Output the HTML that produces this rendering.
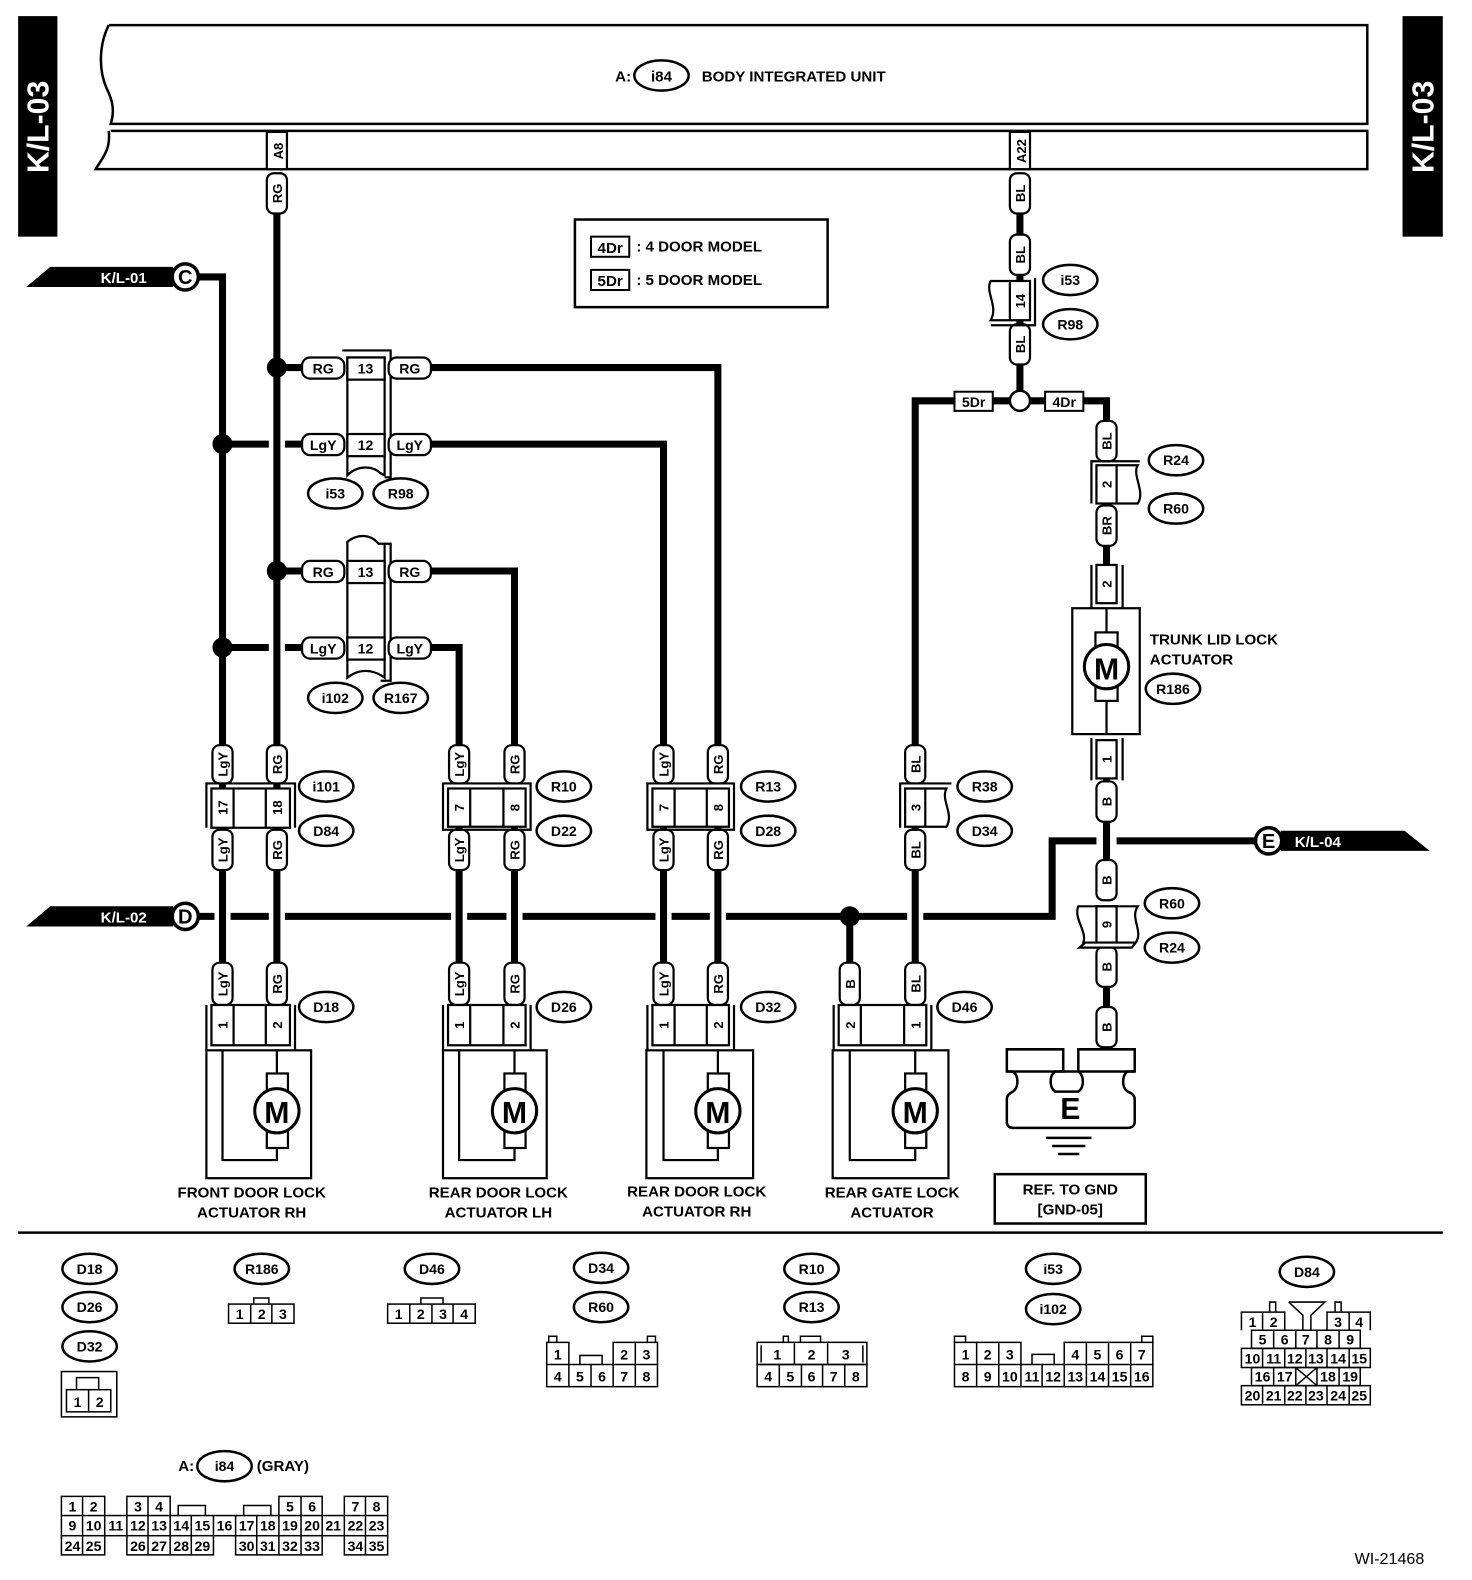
<!DOCTYPE html>
<html><head><meta charset="utf-8"><style>
html,body{margin:0;padding:0;background:#fff;}
svg{display:block;}
text{font-family:"Liberation Sans",sans-serif;font-weight:bold;}
</style></head><body>
<svg width="1472" height="1580" viewBox="0 0 1462 1569" preserveAspectRatio="none" xmlns="http://www.w3.org/2000/svg">
<rect x="0" y="0" width="1462" height="1569" fill="#fff"/>

<rect x="18" y="16" width="39" height="219" fill="#000"/>
<text transform="translate(48,126) rotate(-90)" text-anchor="middle" font-size="30" fill="#fff">K/L-03</text>
<rect x="1393" y="16" width="40" height="219" fill="#000"/>
<text transform="translate(1424,126) rotate(-90)" text-anchor="middle" font-size="30" fill="#fff">K/L-03</text>

<g fill="none" stroke="#000" stroke-width="2.5">
<path d="M108,25 H1358 V123 H110 C114,110 112,100 106,88 C98,70 98,45 108,25"/>
<path d="M110,130 H1358 V168 H95 C103,155 110,148 108,130"/>
</g>
<text x="611" y="81" font-size="15">A:</text>
<ellipse cx="657" cy="75" rx="27" ry="15" fill="#fff" stroke="#000" stroke-width="2.5"/>
<text x="657" y="81" font-size="15" text-anchor="middle">i84</text>
<text x="697" y="81" font-size="15">BODY INTEGRATED UNIT</text>

<rect x="571" y="218" width="251" height="87" fill="none" stroke="#000" stroke-width="2.5"/>
<rect x="587" y="235" width="38" height="20" fill="none" stroke="#000" stroke-width="2"/>
<text x="606" y="251" font-size="15" text-anchor="middle" font-weight="normal">4Dr</text>
<text x="632" y="250" font-size="15">: 4 DOOR MODEL</text>
<rect x="587" y="268" width="38" height="20" fill="none" stroke="#000" stroke-width="2"/>
<text x="606" y="284" font-size="15" text-anchor="middle" font-weight="normal">5Dr</text>
<text x="632" y="283" font-size="15">: 5 DOOR MODEL</text>

<g stroke="#000" stroke-width="7" fill="none">
<line x1="275" y1="210" x2="275" y2="960"/>
<polyline points="196,275 221,275 221,960"/>
<line x1="221" y1="441" x2="267" y2="441"/>
<line x1="283" y1="441" x2="302" y2="441"/>
<line x1="221" y1="643" x2="267" y2="643"/>
<line x1="283" y1="643" x2="302" y2="643"/>
<line x1="275" y1="365" x2="302" y2="365"/>
<line x1="275" y1="567" x2="302" y2="567"/>
<polyline points="428,365 713,365 713,744"/>
<polyline points="428,441 659,441 659,744"/>
<polyline points="428,567 511,567 511,744"/>
<polyline points="428,643 456,643 456,744"/>
<line x1="456" y1="820" x2="456" y2="960"/>
<line x1="511" y1="820" x2="511" y2="960"/>
<line x1="659" y1="820" x2="659" y2="960"/>
<line x1="713" y1="820" x2="713" y2="960"/>
<line x1="844" y1="910" x2="844" y2="960"/>
<line x1="1013" y1="210" x2="1013" y2="390"/>
<polyline points="950,398 909,398 909,744"/>
<line x1="984" y1="398" x2="1005" y2="398"/>
<line x1="1021" y1="398" x2="1040" y2="398"/>
<line x1="909" y1="820" x2="909" y2="960"/>
<polyline points="1075,398 1099,398 1099,420"/>
<line x1="1099" y1="540" x2="1099" y2="565"/>
<line x1="1099" y1="770" x2="1099" y2="860"/>
<line x1="1099" y1="978" x2="1099" y2="1004"/>
<line x1="196" y1="910" x2="213" y2="910"/>
<line x1="229" y1="910" x2="267" y2="910"/>
<line x1="283" y1="910" x2="448" y2="910"/>
<line x1="464" y1="910" x2="503" y2="910"/>
<line x1="519" y1="910" x2="651" y2="910"/>
<line x1="667" y1="910" x2="705" y2="910"/>
<line x1="721" y1="910" x2="901" y2="910"/>
<polyline points="917,910 1045,910 1045,835 1089,835"/>
<line x1="1109" y1="835" x2="1246" y2="835"/>
</g>
<g fill="#000">
<circle cx="275" cy="365" r="10"/><circle cx="221" cy="441" r="10"/>
<circle cx="275" cy="567" r="10"/><circle cx="221" cy="643" r="10"/>
<circle cx="844" cy="910" r="10"/>
</g>
<circle cx="1013" cy="398" r="10" fill="#fff" stroke="#000" stroke-width="2.5"/>
<rect x="948" y="389" width="38" height="19" fill="#fff" stroke="#000" stroke-width="2"/>
<text x="967" y="404" font-size="14" text-anchor="middle" font-weight="normal">5Dr</text>
<rect x="1038" y="389" width="38" height="19" fill="#fff" stroke="#000" stroke-width="2"/>
<text x="1057" y="404" font-size="14" text-anchor="middle" font-weight="normal">4Dr</text>

<polygon points="26,285 50,265 172,265 172,285" fill="#000"/>
<text x="100" y="281" font-size="15" fill="#fff" font-weight="normal">K/L-01</text>
<circle cx="184" cy="275" r="13" fill="#fff" stroke="#000" stroke-width="3.5"/>
<text x="184" y="282" font-size="20" text-anchor="middle">C</text>
<polygon points="26,920 50,900 172,900 172,920" fill="#000"/>
<text x="100" y="916" font-size="15" fill="#fff" font-weight="normal">K/L-02</text>
<circle cx="184" cy="910" r="13" fill="#fff" stroke="#000" stroke-width="3.5"/>
<text x="184" y="917" font-size="20" text-anchor="middle">D</text>
<polygon points="1272,825 1395,825 1420,845 1272,845" fill="#000"/>
<text x="1286" y="841" font-size="15" fill="#fff" font-weight="normal">K/L-04</text>
<circle cx="1260" cy="835" r="13" fill="#fff" stroke="#000" stroke-width="3.5"/>
<text x="1260" y="842" font-size="20" text-anchor="middle">E</text>

<g fill="#fff" stroke="#000" stroke-width="2.2">
<rect x="265" y="131" width="20" height="37"/>
<rect x="1003" y="131" width="20" height="37"/>
</g>
<text transform="translate(281,150) rotate(-90)" font-size="13" text-anchor="middle">A8</text>
<text transform="translate(1019,150) rotate(-90)" font-size="13" text-anchor="middle">A22</text>

<g fill="#fff" stroke="#000" stroke-width="2.2">
<rect x="265" y="172" width="20" height="40" rx="7"/>
<rect x="1003" y="172" width="20" height="40" rx="7"/>
<rect x="1003" y="233" width="20" height="40" rx="7"/>
<rect x="1003" y="322" width="20" height="40" rx="7"/>
<rect x="211" y="740" width="20" height="38" rx="7"/><rect x="265" y="740" width="20" height="38" rx="7"/>
<rect x="446" y="740" width="20" height="38" rx="7"/><rect x="501" y="740" width="20" height="38" rx="7"/>
<rect x="649" y="740" width="20" height="38" rx="7"/><rect x="703" y="740" width="20" height="38" rx="7"/>
<rect x="899" y="740" width="20" height="38" rx="7"/>
<rect x="211" y="824" width="20" height="40" rx="7"/><rect x="265" y="824" width="20" height="40" rx="7"/>
<rect x="446" y="824" width="20" height="40" rx="7"/><rect x="501" y="824" width="20" height="40" rx="7"/>
<rect x="649" y="824" width="20" height="40" rx="7"/><rect x="703" y="824" width="20" height="40" rx="7"/>
<rect x="899" y="824" width="20" height="40" rx="7"/>
<rect x="211" y="956" width="20" height="42" rx="7"/><rect x="265" y="956" width="20" height="42" rx="7"/>
<rect x="446" y="956" width="20" height="42" rx="7"/><rect x="501" y="956" width="20" height="42" rx="7"/>
<rect x="649" y="956" width="20" height="42" rx="7"/><rect x="703" y="956" width="20" height="42" rx="7"/>
<rect x="834" y="956" width="20" height="42" rx="7"/><rect x="899" y="956" width="20" height="42" rx="7"/>
<rect x="1089" y="418" width="20" height="40" rx="7"/>
<rect x="1089" y="502" width="20" height="40" rx="7"/>
<rect x="1089" y="776" width="20" height="40" rx="7"/>
<rect x="1089" y="854" width="20" height="40" rx="7"/>
<rect x="1089" y="940" width="20" height="40" rx="7"/>
<rect x="1089" y="1000" width="20" height="40" rx="7"/>
</g>
<g font-size="13" text-anchor="middle">
<text transform="translate(280,192) rotate(-90)">RG</text>
<text transform="translate(1018,192) rotate(-90)">BL</text>
<text transform="translate(1018,253) rotate(-90)">BL</text>
<text transform="translate(1018,342) rotate(-90)">BL</text>
<text transform="translate(226,759) rotate(-90)">LgY</text><text transform="translate(280,759) rotate(-90)">RG</text>
<text transform="translate(461,759) rotate(-90)">LgY</text><text transform="translate(516,759) rotate(-90)">RG</text>
<text transform="translate(664,759) rotate(-90)">LgY</text><text transform="translate(718,759) rotate(-90)">RG</text>
<text transform="translate(914,759) rotate(-90)">BL</text>
<text transform="translate(226,844) rotate(-90)">LgY</text><text transform="translate(280,844) rotate(-90)">RG</text>
<text transform="translate(461,844) rotate(-90)">LgY</text><text transform="translate(516,844) rotate(-90)">RG</text>
<text transform="translate(664,844) rotate(-90)">LgY</text><text transform="translate(718,844) rotate(-90)">RG</text>
<text transform="translate(914,844) rotate(-90)">BL</text>
<text transform="translate(226,977) rotate(-90)">LgY</text><text transform="translate(280,977) rotate(-90)">RG</text>
<text transform="translate(461,977) rotate(-90)">LgY</text><text transform="translate(516,977) rotate(-90)">RG</text>
<text transform="translate(664,977) rotate(-90)">LgY</text><text transform="translate(718,977) rotate(-90)">RG</text>
<text transform="translate(849,977) rotate(-90)">B</text><text transform="translate(914,977) rotate(-90)">BL</text>
<text transform="translate(1104,438) rotate(-90)">BL</text>
<text transform="translate(1104,522) rotate(-90)">BR</text>
<text transform="translate(1104,796) rotate(-90)">B</text>
<text transform="translate(1104,874) rotate(-90)">B</text>
<text transform="translate(1104,960) rotate(-90)">B</text>
<text transform="translate(1104,1020) rotate(-90)">B</text>
</g>

<g fill="#fff" stroke="#000" stroke-width="2.2">
<path d="M345,355 V472 C355,462 370,462 378,470 L382,472 V355 Z"/>
<path d="M340,348 H388 V474 L382,474" fill="none"/>
<path d="M345,538 C355,530 368,530 376,540 L382,540 V673 C370,664 356,664 345,673 Z"/>
<path d="M382,540 H388 V676 H378" fill="none"/>
<rect x="345" y="355" width="37" height="22"/><rect x="345" y="431" width="37" height="22"/>
<rect x="345" y="557" width="37" height="22"/><rect x="345" y="633" width="37" height="22"/>
<rect x="300" y="355" width="42" height="21" rx="8"/><rect x="386" y="355" width="42" height="21" rx="8"/>
<rect x="300" y="431" width="42" height="21" rx="8"/><rect x="386" y="431" width="42" height="21" rx="8"/>
<rect x="300" y="557" width="42" height="21" rx="8"/><rect x="386" y="557" width="42" height="21" rx="8"/>
<rect x="300" y="633" width="42" height="21" rx="8"/><rect x="386" y="633" width="42" height="21" rx="8"/>
</g>
<g font-size="14" text-anchor="middle">
<text x="321" y="371">RG</text><text x="363" y="371">13</text><text x="407" y="371">RG</text>
<text x="321" y="447">LgY</text><text x="363" y="447">12</text><text x="407" y="447">LgY</text>
<text x="321" y="573">RG</text><text x="363" y="573">13</text><text x="407" y="573">RG</text>
<text x="321" y="649">LgY</text><text x="363" y="649">12</text><text x="407" y="649">LgY</text>
</g>

<g fill="#fff" stroke="#000" stroke-width="2.2">
<path d="M1003,279 H984 C978,290 992,304 984,318 H1003"/>
<rect x="1003" y="279" width="20" height="39"/>
<path d="M1028,276 V323 H984" fill="none"/>
</g>
<text transform="translate(1018,299) rotate(-90)" font-size="13" text-anchor="middle">14</text>

<g fill="#fff" stroke="#000" stroke-width="2.2">
<path d="M1109,462 H1130 C1124,472 1138,488 1130,500 H1109"/>
<rect x="1089" y="462" width="20" height="38"/>
<path d="M1084,500 V458 H1132" fill="none"/>
</g>
<text transform="translate(1104,481) rotate(-90)" font-size="13" text-anchor="middle">2</text>

<g fill="#fff" stroke="#000" stroke-width="2.2">
<path d="M1071,900 H1130 C1122,912 1136,925 1128,936 H1076 C1080,925 1066,912 1071,900 Z"/>
<rect x="1089" y="900" width="20" height="36"/>
<path d="M1072,941 L1078,936 H1128 L1124,941 Z"/>
</g>
<text transform="translate(1104,918) rotate(-90)" font-size="13" text-anchor="middle">9</text>

<g fill="#fff" stroke="#000" stroke-width="2.2">
<path d="M1084,561 V605 M1115,561 V605 M1084,733 V775 M1115,733 V775" fill="none"/>
<rect x="1089" y="561" width="20" height="38"/>
<rect x="1065" y="604" width="67" height="125"/>
<line x1="1099" y1="604" x2="1099" y2="729"/>
<rect x="1088" y="628" width="22" height="68"/>
<circle cx="1099" cy="662" r="22" stroke-width="3"/>
<rect x="1089" y="735" width="20" height="38"/>
</g>
<text x="1099" y="675" font-size="30" text-anchor="middle">M</text>
<text transform="translate(1104,580) rotate(-90)" font-size="13" text-anchor="middle">2</text>
<text transform="translate(1104,754) rotate(-90)" font-size="13" text-anchor="middle">1</text>
<text x="1142" y="640" font-size="15">TRUNK LID LOCK</text>
<text x="1142" y="660" font-size="15">ACTUATOR</text>

<g fill="#fff" stroke="#000" stroke-width="2.2">
<path d="M205,822 V778 H293 V822" fill="none"/>
<rect x="210" y="783" width="78" height="39"/><line x1="232" y1="783" x2="232" y2="822"/><line x1="264" y1="783" x2="264" y2="822"/>
<path d="M440,824 H527 V778 H440 Z" fill="none"/>
<rect x="445" y="783" width="77" height="38"/><line x1="467" y1="783" x2="467" y2="821"/><line x1="500" y1="783" x2="500" y2="821"/>
<path d="M643,824 H729 V778 H643 Z" fill="none"/>
<rect x="648" y="783" width="76" height="38"/><line x1="670" y1="783" x2="670" y2="821"/><line x1="702" y1="783" x2="702" y2="821"/>
<path d="M894,822 V778 H945" fill="none"/>
<path d="M899,783 H940 C934,795 948,808 940,821 H899 Z"/><line x1="919" y1="783" x2="919" y2="821"/>
</g>
<g font-size="13" text-anchor="middle">
<text transform="translate(226,802) rotate(-90)">17</text><text transform="translate(280,802) rotate(-90)">18</text>
<text transform="translate(461,802) rotate(-90)">7</text><text transform="translate(516,802) rotate(-90)">8</text>
<text transform="translate(664,802) rotate(-90)">7</text><text transform="translate(718,802) rotate(-90)">8</text>
<text transform="translate(914,802) rotate(-90)">3</text>
</g>

<g fill="#fff" stroke="#000" stroke-width="2.2">
<path d="M205,1043 V998 M293,998 V1043" fill="none"/>
<rect x="210" y="998" width="78" height="40"/><line x1="232" y1="998" x2="232" y2="1038"/><line x1="264" y1="998" x2="264" y2="1038"/>
<rect x="205" y="1043" width="104" height="127"/>
<polyline points="221,1043 221,1152 275,1152 275,1140" fill="none"/>
<line x1="275" y1="1043" x2="275" y2="1066"/>
<rect x="265" y="1066" width="21" height="74"/>
<circle cx="275" cy="1103" r="22" stroke-width="3"/>
<path d="M440,1043 V998 M527,998 V1043" fill="none"/>
<rect x="445" y="998" width="77" height="40"/><line x1="467" y1="998" x2="467" y2="1038"/><line x1="500" y1="998" x2="500" y2="1038"/>
<rect x="440" y="1043" width="103" height="127"/>
<polyline points="456,1043 456,1152 511,1152 511,1140" fill="none"/>
<line x1="511" y1="1043" x2="511" y2="1066"/>
<rect x="501" y="1066" width="21" height="74"/>
<circle cx="511" cy="1103" r="22" stroke-width="3"/>
<path d="M643,1043 V998 M729,998 V1043" fill="none"/>
<rect x="648" y="998" width="76" height="40"/><line x1="670" y1="998" x2="670" y2="1038"/><line x1="702" y1="998" x2="702" y2="1038"/>
<rect x="642" y="1043" width="106" height="127"/>
<polyline points="659,1043 659,1152 713,1152 713,1140" fill="none"/>
<line x1="713" y1="1043" x2="713" y2="1066"/>
<rect x="703" y="1066" width="21" height="74"/>
<circle cx="713" cy="1103" r="22" stroke-width="3"/>
<path d="M828,1043 V998 M925,998 V1043" fill="none"/>
<rect x="833" y="998" width="87" height="40"/><line x1="855" y1="998" x2="855" y2="1038"/><line x1="898" y1="998" x2="898" y2="1038"/>
<rect x="827" y="1043" width="115" height="127"/>
<polyline points="844,1043 844,1152 909,1152 909,1140" fill="none"/>
<line x1="909" y1="1043" x2="909" y2="1066"/>
<rect x="899" y="1066" width="21" height="74"/>
<circle cx="909" cy="1103" r="22" stroke-width="3"/>
</g>
<g font-size="30" text-anchor="middle">
<text x="275" y="1115">M</text><text x="511" y="1115">M</text><text x="713" y="1115">M</text><text x="909" y="1115">M</text>
</g>
<g font-size="13" text-anchor="middle">
<text transform="translate(226,1018) rotate(-90)">1</text><text transform="translate(280,1018) rotate(-90)">2</text>
<text transform="translate(461,1018) rotate(-90)">1</text><text transform="translate(516,1018) rotate(-90)">2</text>
<text transform="translate(664,1018) rotate(-90)">1</text><text transform="translate(718,1018) rotate(-90)">2</text>
<text transform="translate(849,1018) rotate(-90)">2</text><text transform="translate(914,1018) rotate(-90)">1</text>
</g>
<g font-size="15" text-anchor="middle">
<text x="250" y="1189">FRONT DOOR LOCK</text><text x="250" y="1209">ACTUATOR RH</text>
<text x="495" y="1189">REAR DOOR LOCK</text><text x="495" y="1209">ACTUATOR LH</text>
<text x="692" y="1188">REAR DOOR LOCK</text><text x="692" y="1208">ACTUATOR RH</text>
<text x="886" y="1189">REAR GATE LOCK</text><text x="886" y="1209">ACTUATOR</text>
</g>

<g fill="#fff" stroke="#000" stroke-width="2.5">
<path d="M1000,1042 H1056 V1064 H1048 C1042,1068 1042,1080 1048,1084 H1071 C1077,1080 1077,1068 1071,1064 V1042 H1127 V1064 H1120 C1114,1068 1114,1080 1120,1084 C1125,1086 1127,1088 1127,1092 V1114 C1127,1118 1124,1120 1120,1120 H1006 C1002,1120 1000,1118 1000,1114 V1092 C1000,1088 1002,1086 1006,1084 C1012,1080 1012,1068 1006,1064 H1000 Z"/>
<line x1="1000" y1="1064" x2="1127" y2="1064"/>
</g>
<text x="1063" y="1111" font-size="30" text-anchor="middle">E</text>
<g stroke="#000" stroke-width="2.5">
<line x1="1039" y1="1130" x2="1084" y2="1130"/>
<line x1="1045" y1="1138" x2="1078" y2="1138"/>
<line x1="1051" y1="1146" x2="1072" y2="1146"/>
</g>
<rect x="988" y="1166" width="150" height="49" fill="none" stroke="#000" stroke-width="2.5"/>
<text x="1063" y="1186" font-size="15" text-anchor="middle">REF. TO GND</text>
<text x="1063" y="1206" font-size="15" text-anchor="middle">[GND-05]</text>

<g fill="#fff" stroke="#000" stroke-width="2.5">
<ellipse cx="1063" cy="278" rx="27" ry="15"/><ellipse cx="1063" cy="322" rx="27" ry="15"/>
<ellipse cx="333" cy="490" rx="27" ry="15"/><ellipse cx="398" cy="490" rx="27" ry="15"/>
<ellipse cx="333" cy="693" rx="27" ry="15"/><ellipse cx="398" cy="693" rx="27" ry="15"/>
<ellipse cx="1168" cy="457" rx="27" ry="15"/><ellipse cx="1168" cy="505" rx="27" ry="15"/>
<ellipse cx="1165" cy="684" rx="27" ry="15"/>
<ellipse cx="324" cy="781" rx="27" ry="15"/><ellipse cx="324" cy="825" rx="27" ry="15"/>
<ellipse cx="560" cy="781" rx="27" ry="15"/><ellipse cx="560" cy="825" rx="27" ry="15"/>
<ellipse cx="763" cy="781" rx="27" ry="15"/><ellipse cx="763" cy="825" rx="27" ry="15"/>
<ellipse cx="978" cy="781" rx="27" ry="15"/><ellipse cx="978" cy="825" rx="27" ry="15"/>
<ellipse cx="1164" cy="897" rx="27" ry="15"/><ellipse cx="1164" cy="941" rx="27" ry="15"/>
<ellipse cx="324" cy="1000" rx="27" ry="15"/><ellipse cx="560" cy="1000" rx="27" ry="15"/>
<ellipse cx="763" cy="1000" rx="27" ry="15"/><ellipse cx="958" cy="1000" rx="27" ry="15"/>
<ellipse cx="89" cy="1260" rx="27" ry="15"/><ellipse cx="89" cy="1298" rx="27" ry="15"/><ellipse cx="89" cy="1337" rx="27" ry="15"/>
<ellipse cx="260" cy="1260" rx="27" ry="15"/><ellipse cx="429" cy="1260" rx="27" ry="15"/>
<ellipse cx="597" cy="1259" rx="27" ry="15"/><ellipse cx="597" cy="1298" rx="27" ry="15"/>
<ellipse cx="806" cy="1260" rx="27" ry="15"/><ellipse cx="806" cy="1298" rx="27" ry="15"/>
<ellipse cx="1046" cy="1260" rx="27" ry="15"/><ellipse cx="1046" cy="1300" rx="27" ry="15"/>
<ellipse cx="1298" cy="1263" rx="27" ry="15"/>
<ellipse cx="223" cy="1456" rx="27" ry="15"/>
</g>
<g font-size="14" text-anchor="middle">
<text x="1063" y="283">i53</text><text x="1063" y="327">R98</text>
<text x="333" y="495">i53</text><text x="398" y="495">R98</text>
<text x="333" y="698">i102</text><text x="398" y="698">R167</text>
<text x="1168" y="462">R24</text><text x="1168" y="510">R60</text>
<text x="1165" y="689">R186</text>
<text x="324" y="786">i101</text><text x="324" y="830">D84</text>
<text x="560" y="786">R10</text><text x="560" y="830">D22</text>
<text x="763" y="786">R13</text><text x="763" y="830">D28</text>
<text x="978" y="786">R38</text><text x="978" y="830">D34</text>
<text x="1164" y="902">R60</text><text x="1164" y="946">R24</text>
<text x="324" y="1005">D18</text><text x="560" y="1005">D26</text>
<text x="763" y="1005">D32</text><text x="958" y="1005">D46</text>
<text x="89" y="1265">D18</text><text x="89" y="1303">D26</text><text x="89" y="1342">D32</text>
<text x="260" y="1265">R186</text><text x="429" y="1265">D46</text>
<text x="597" y="1264">D34</text><text x="597" y="1303">R60</text>
<text x="806" y="1265">R10</text><text x="806" y="1303">R13</text>
<text x="1046" y="1265">i53</text><text x="1046" y="1305">i102</text>
<text x="1298" y="1268">D84</text>
<text x="223" y="1461">i84</text>
</g>
<text x="177" y="1461" font-size="15">A:</text>
<text x="255" y="1461" font-size="15">(GRAY)</text>

<line x1="18" y1="1224" x2="1433" y2="1224" stroke="#000" stroke-width="2.5"/>

<g fill="none" stroke="#000" stroke-width="1.5">
<rect x="61" y="1362" width="55" height="45"/>
<rect x="66" y="1380" width="44" height="22"/><line x1="88" y1="1380" x2="88" y2="1402"/>
<path d="M76,1380 V1368 H98 V1380"/>
<rect x="227" y="1295" width="65" height="19"/><line x1="249" y1="1295" x2="249" y2="1314"/><line x1="270" y1="1295" x2="270" y2="1314"/>
<path d="M252,1295 V1289 H267 V1295"/>
<rect x="385" y="1295" width="87" height="19"/><line x1="407" y1="1295" x2="407" y2="1314"/><line x1="429" y1="1295" x2="429" y2="1314"/><line x1="450" y1="1295" x2="450" y2="1314"/>
<path d="M418,1295 V1289 H440 V1295"/>
<path d="M543,1355 V1333 H565 V1355 M609,1355 V1333 H653 V1355 M631,1333 V1355"/>
<rect x="543" y="1355" width="110" height="22"/>
<line x1="565" y1="1355" x2="565" y2="1377"/><line x1="587" y1="1355" x2="587" y2="1377"/><line x1="609" y1="1355" x2="609" y2="1377"/><line x1="631" y1="1355" x2="631" y2="1377"/>
<path d="M576,1355 V1346 H598 V1355"/>
<path d="M545,1333 V1327 H553 V1333 M643,1333 V1327 H651 V1333"/>
<rect x="752" y="1333" width="109" height="22"/><rect x="752" y="1355" width="109" height="22"/>
<line x1="789" y1="1333" x2="789" y2="1355"/><line x1="822" y1="1333" x2="822" y2="1355"/>
<line x1="756" y1="1336" x2="756" y2="1353"/><line x1="857" y1="1336" x2="857" y2="1353"/>
<line x1="774" y1="1355" x2="774" y2="1377"/><line x1="796" y1="1355" x2="796" y2="1377"/><line x1="817" y1="1355" x2="817" y2="1377"/><line x1="839" y1="1355" x2="839" y2="1377"/>
<path d="M795,1333 V1327 H815 V1333 M778,1333 V1327 H783 V1333"/>
<path d="M948,1355 V1333 H1014 V1355 M970,1333 V1355 M992,1333 V1355 M1057,1355 V1333 H1145 V1355 M1079,1333 V1355 M1101,1333 V1355 M1123,1333 V1355"/>
<rect x="948" y="1355" width="197" height="22"/>
<line x1="970" y1="1355" x2="970" y2="1377"/><line x1="992" y1="1355" x2="992" y2="1377"/><line x1="1014" y1="1355" x2="1014" y2="1377"/><line x1="1035" y1="1355" x2="1035" y2="1377"/><line x1="1057" y1="1355" x2="1057" y2="1377"/><line x1="1079" y1="1355" x2="1079" y2="1377"/><line x1="1101" y1="1355" x2="1101" y2="1377"/><line x1="1123" y1="1355" x2="1123" y2="1377"/>
<path d="M1025,1355 V1345 H1047 V1355"/>
<path d="M948,1333 V1327 H959 V1333 M1134,1333 V1327 H1145 V1333"/>
<path d="M1233,1321 V1303 H1276 V1321 M1254,1303 V1321 M1318,1321 V1303 H1361 V1321 M1340,1303 V1321"/>
<path d="M1261,1303 V1293 H1267 V1303 M1326,1303 V1293 H1332 V1303"/>
<path d="M1280,1293 H1316 L1302,1306 V1321 M1294,1321 V1306 L1280,1293"/>
<rect x="1243" y="1321" width="108" height="18"/>
<line x1="1265" y1="1321" x2="1265" y2="1339"/><line x1="1287" y1="1321" x2="1287" y2="1339"/><line x1="1308" y1="1321" x2="1308" y2="1339"/><line x1="1330" y1="1321" x2="1330" y2="1339"/>
<rect x="1233" y="1339" width="128" height="19"/>
<line x1="1254" y1="1339" x2="1254" y2="1358"/><line x1="1276" y1="1339" x2="1276" y2="1358"/><line x1="1297" y1="1339" x2="1297" y2="1358"/><line x1="1318" y1="1339" x2="1318" y2="1358"/><line x1="1340" y1="1339" x2="1340" y2="1358"/>
<rect x="1243" y="1358" width="108" height="18"/>
<line x1="1265" y1="1358" x2="1265" y2="1376"/><line x1="1287" y1="1358" x2="1287" y2="1376"/><line x1="1308" y1="1358" x2="1308" y2="1376"/><line x1="1330" y1="1358" x2="1330" y2="1376"/>
<path d="M1287,1358 L1308,1376 M1308,1358 L1287,1376"/>
<rect x="1233" y="1376" width="128" height="19"/>
<line x1="1254" y1="1376" x2="1254" y2="1395"/><line x1="1276" y1="1376" x2="1276" y2="1395"/><line x1="1297" y1="1376" x2="1297" y2="1395"/><line x1="1318" y1="1376" x2="1318" y2="1395"/><line x1="1340" y1="1376" x2="1340" y2="1395"/>
<!-- i84 -->
<path d="M61,1505 V1486 H104 V1505 M82,1486 V1505"/>
<path d="M126,1505 V1486 H169 V1505 M147,1486 V1505"/>
<path d="M277,1505 V1486 H320 V1505 M299,1486 V1505"/>
<path d="M342,1505 V1486 H385 V1505 M363,1486 V1505"/>
<path d="M177,1505 V1495 H204 V1505"/>
<path d="M242,1505 V1495 H269 V1505"/>
<rect x="61" y="1505" width="324" height="20"/>
<line x1="82" y1="1505" x2="82" y2="1525"/><line x1="104" y1="1505" x2="104" y2="1525"/><line x1="126" y1="1505" x2="126" y2="1525"/><line x1="147" y1="1505" x2="147" y2="1525"/><line x1="169" y1="1505" x2="169" y2="1525"/><line x1="190" y1="1505" x2="190" y2="1525"/><line x1="212" y1="1505" x2="212" y2="1525"/><line x1="234" y1="1505" x2="234" y2="1525"/><line x1="255" y1="1505" x2="255" y2="1525"/><line x1="277" y1="1505" x2="277" y2="1525"/><line x1="299" y1="1505" x2="299" y2="1525"/><line x1="320" y1="1505" x2="320" y2="1525"/><line x1="342" y1="1505" x2="342" y2="1525"/><line x1="363" y1="1505" x2="363" y2="1525"/>
<path d="M61,1525 V1544 H104 V1525 M82,1525 V1544"/>
<path d="M126,1525 V1544 H212 V1525 M147,1525 V1544 M169,1525 V1544 M190,1525 V1544"/>
<path d="M234,1525 V1544 H320 V1525 M255,1525 V1544 M277,1525 V1544 M299,1525 V1544"/>
<path d="M342,1525 V1544 H385 V1525 M363,1525 V1544"/>
</g>
<g font-size="14" text-anchor="middle" style="font-weight:normal">
<text x="77" y="1397">1</text><text x="99" y="1397">2</text>
<text x="238" y="1310">1</text><text x="260" y="1310">2</text><text x="281" y="1310">3</text>
<text x="396" y="1310">1</text><text x="418" y="1310">2</text><text x="440" y="1310">3</text><text x="461" y="1310">4</text>
<text x="554" y="1350">1</text><text x="620" y="1350">2</text><text x="642" y="1350">3</text>
<text x="554" y="1372">4</text><text x="576" y="1372">5</text><text x="598" y="1372">6</text><text x="620" y="1372">7</text><text x="642" y="1372">8</text>
<text x="772" y="1350">1</text><text x="806" y="1350">2</text><text x="840" y="1350">3</text>
<text x="763" y="1372">4</text><text x="785" y="1372">5</text><text x="806" y="1372">6</text><text x="828" y="1372">7</text><text x="850" y="1372">8</text>
<text x="959" y="1350">1</text><text x="981" y="1350">2</text><text x="1003" y="1350">3</text>
<text x="1068" y="1350">4</text><text x="1090" y="1350">5</text><text x="1112" y="1350">6</text><text x="1134" y="1350">7</text>
<text x="959" y="1372">8</text><text x="981" y="1372">9</text><text x="1003" y="1372">10</text><text x="1025" y="1372">11</text><text x="1046" y="1372">12</text><text x="1068" y="1372">13</text><text x="1090" y="1372">14</text><text x="1112" y="1372">15</text><text x="1134" y="1372">16</text>
<text x="1244" y="1318">1</text><text x="1265" y="1318">2</text><text x="1329" y="1318">3</text><text x="1350" y="1318">4</text>
<text x="1254" y="1335">5</text><text x="1276" y="1335">6</text><text x="1297" y="1335">7</text><text x="1319" y="1335">8</text><text x="1341" y="1335">9</text>
<text x="1244" y="1354">10</text><text x="1265" y="1354">11</text><text x="1286" y="1354">12</text><text x="1307" y="1354">13</text><text x="1329" y="1354">14</text><text x="1350" y="1354">15</text>
<text x="1254" y="1372">16</text><text x="1276" y="1372">17</text><text x="1319" y="1372">18</text><text x="1341" y="1372">19</text>
<text x="1244" y="1391">20</text><text x="1265" y="1391">21</text><text x="1286" y="1391">22</text><text x="1307" y="1391">23</text><text x="1329" y="1391">24</text><text x="1350" y="1391">25</text>
<text x="72" y="1501">1</text><text x="93" y="1501">2</text><text x="137" y="1501">3</text><text x="158" y="1501">4</text>
<text x="288" y="1501">5</text><text x="310" y="1501">6</text><text x="353" y="1501">7</text><text x="374" y="1501">8</text>
<text x="72" y="1520">9</text><text x="93" y="1520">10</text><text x="115" y="1520">11</text><text x="137" y="1520">12</text><text x="158" y="1520">13</text><text x="180" y="1520">14</text><text x="201" y="1520">15</text><text x="223" y="1520">16</text><text x="245" y="1520">17</text><text x="266" y="1520">18</text><text x="288" y="1520">19</text><text x="310" y="1520">20</text><text x="331" y="1520">21</text><text x="353" y="1520">22</text><text x="374" y="1520">23</text>
<text x="72" y="1540">24</text><text x="93" y="1540">25</text><text x="137" y="1540">26</text><text x="158" y="1540">27</text><text x="180" y="1540">28</text><text x="201" y="1540">29</text><text x="245" y="1540">30</text><text x="266" y="1540">31</text><text x="288" y="1540">32</text><text x="310" y="1540">33</text><text x="353" y="1540">34</text><text x="374" y="1540">35</text>
</g>
<text x="1380" y="1553" font-size="16" text-anchor="middle" style="font-weight:normal">WI-21468</text>
</svg>
</body></html>
